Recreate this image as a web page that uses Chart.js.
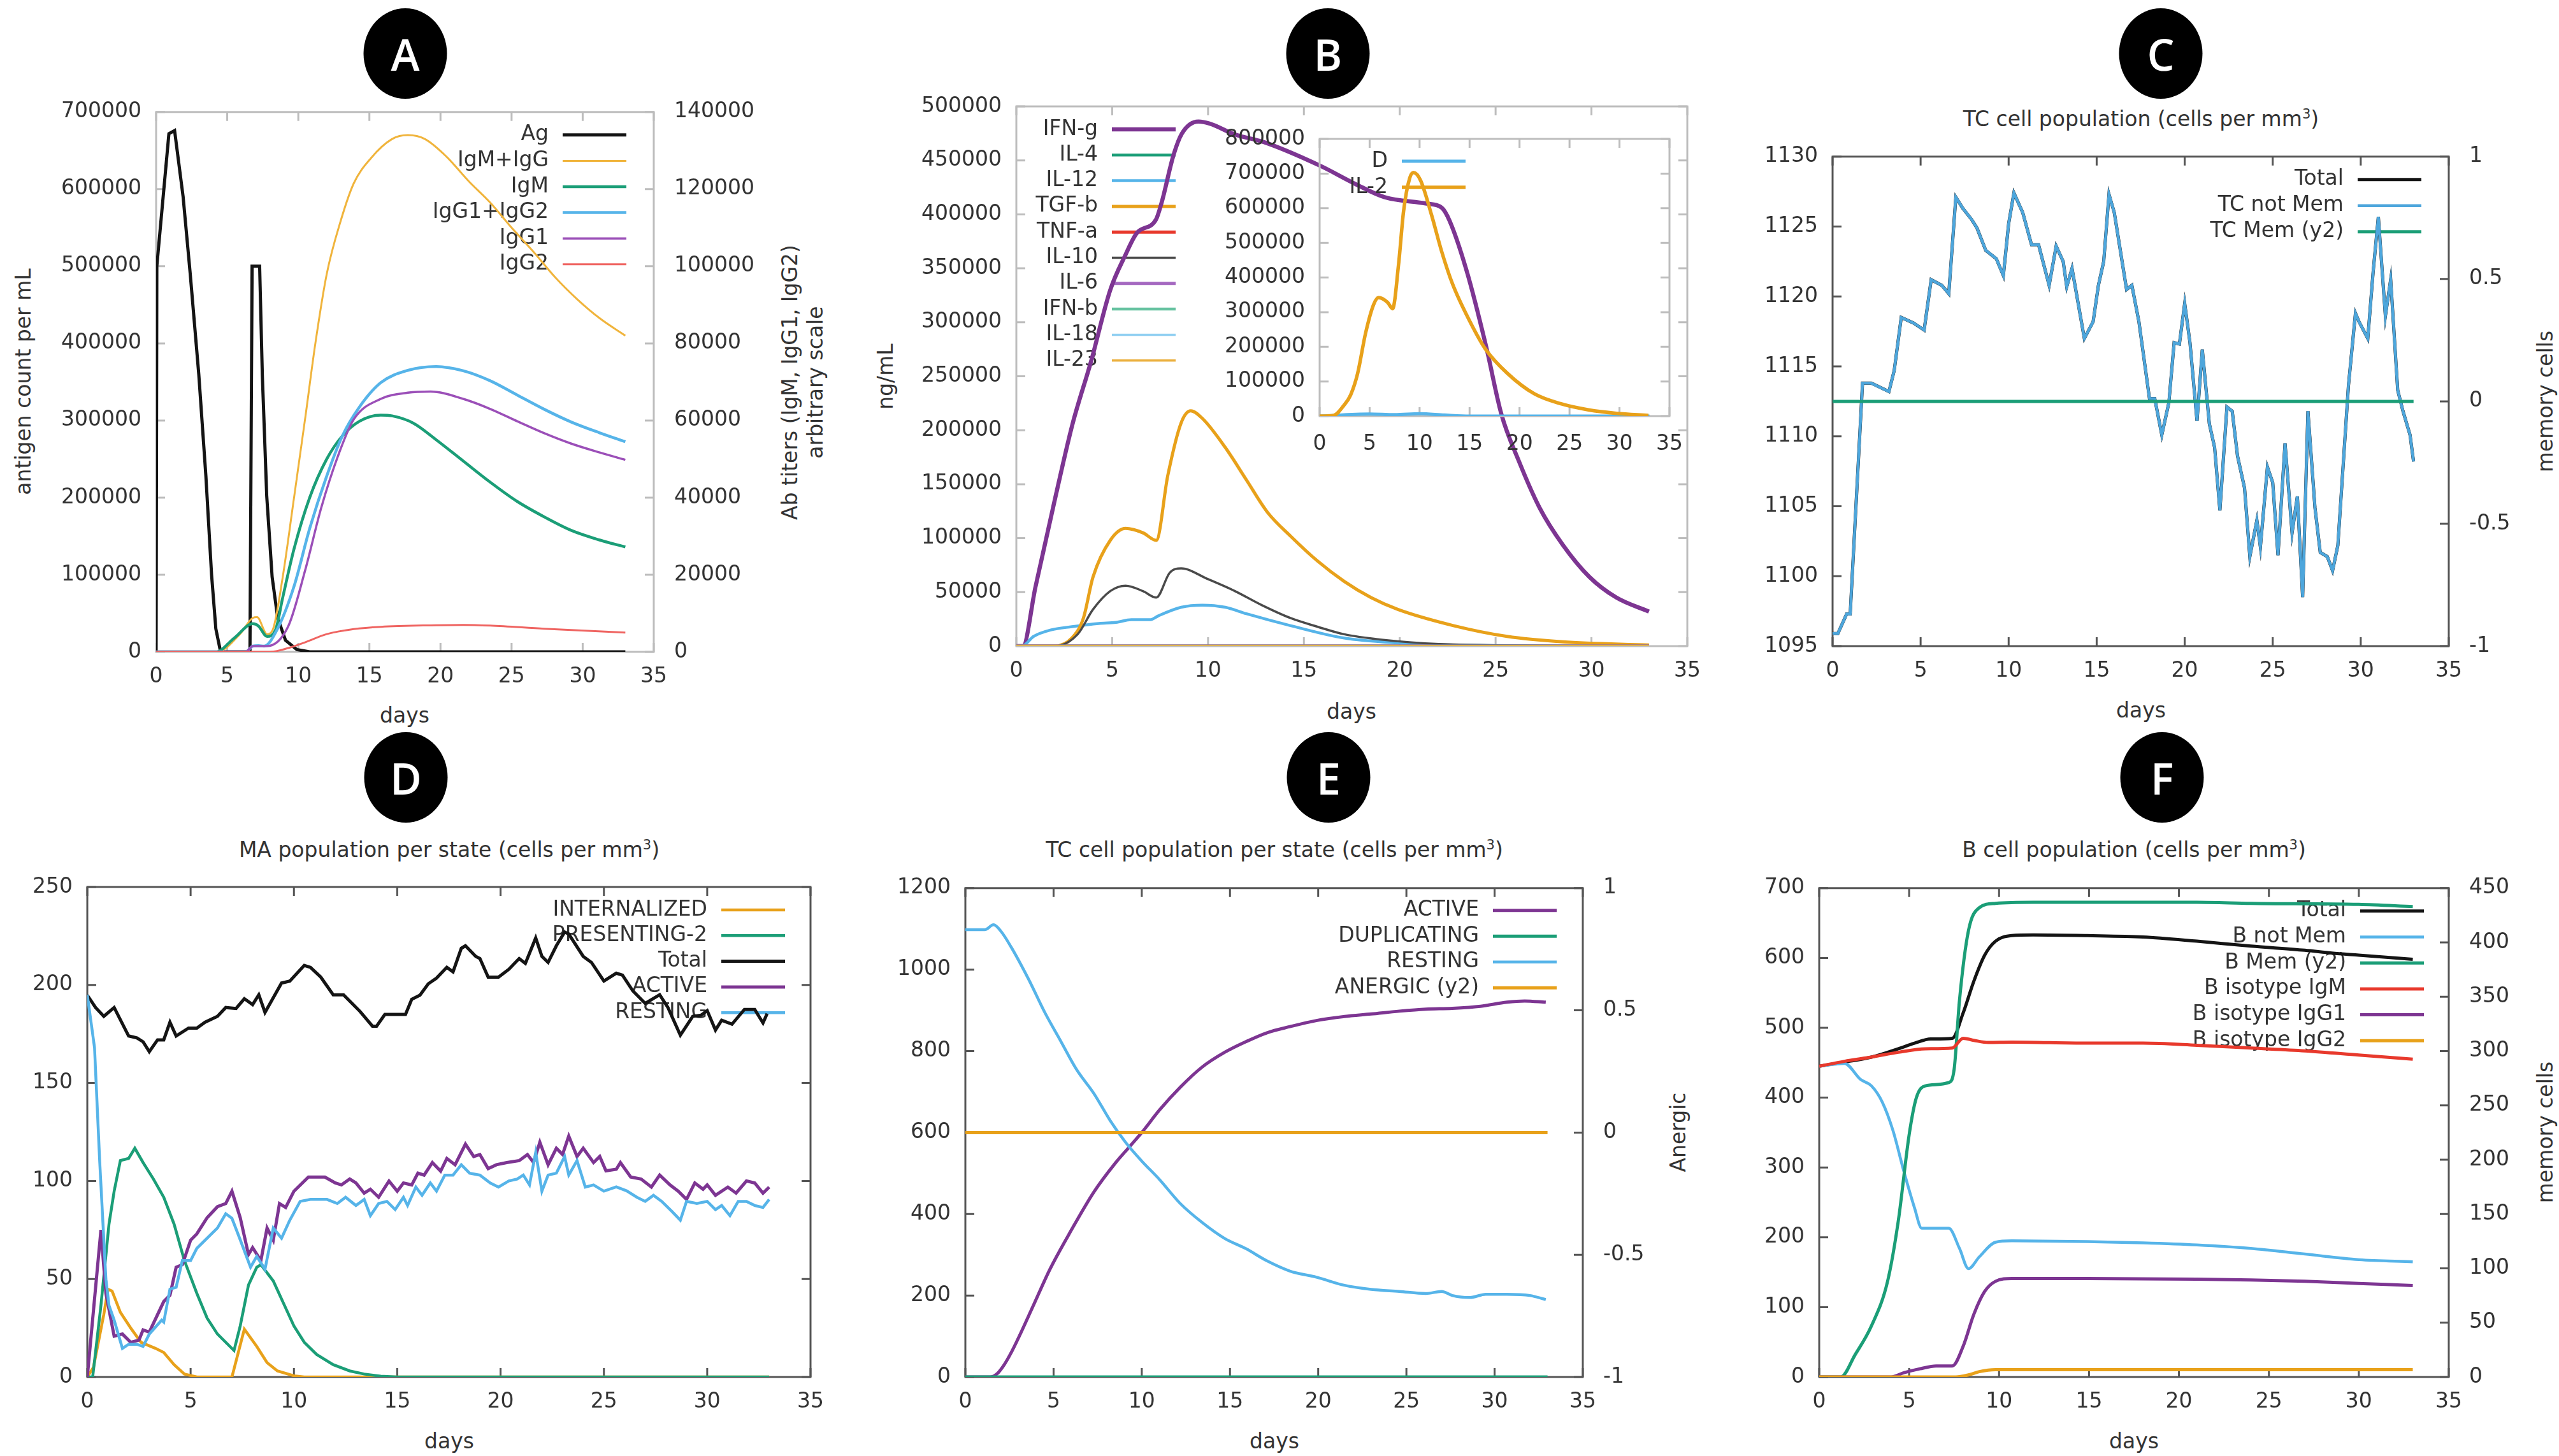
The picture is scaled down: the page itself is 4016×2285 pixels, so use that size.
<!DOCTYPE html>
<html>
<head>
<meta charset="utf-8">
<script src="https://cdn.jsdelivr.net/npm/chart.js@4.4.1/dist/chart.umd.min.js"></script>
<style>
  body { margin: 0; background: #fff; width: 4016px; height: 2285px; position: relative; overflow: hidden;
         font-family: "DejaVu Sans", sans-serif; color: #333; }
  canvas { position: absolute; }
  .t { position: absolute; font-size: 33px; white-space: nowrap; transform: translate(-50%, -50%); }
  .v { transform: translate(-50%, -50%) rotate(-90deg); }
  .t sup { font-size: 21px; line-height: 0; }
  .badge { position: absolute; width: 131px; height: 142px; border-radius: 50%; background: #000; color: #fff;
           font-family: "Open Sans", sans-serif; font-weight: 600; font-size: 68px; display: flex;
           align-items: center; justify-content: center; transform: translate(-50%, -50%); }
</style>
</head>
<body>

<div class="badge" style="left:636px;top:84px">A</div>
<div class="badge" style="left:2084px;top:84px">B</div>
<div class="badge" style="left:3391px;top:84px">C</div>
<div class="badge" style="left:637px;top:1220px">D</div>
<div class="badge" style="left:2085px;top:1220px">E</div>
<div class="badge" style="left:3393px;top:1220px">F</div>

<div class="t" style="left:3360px;top:186px">TC cell population (cells per mm<sup>3</sup>)</div>
<div class="t" style="left:705px;top:1333px">MA population per state (cells per mm<sup>3</sup>)</div>
<div class="t" style="left:2000px;top:1333px">TC cell population per state (cells per mm<sup>3</sup>)</div>
<div class="t" style="left:3349px;top:1333px">B cell population (cells per mm<sup>3</sup>)</div>

<div class="t" style="left:635px;top:1122px">days</div>
<div class="t" style="left:2121px;top:1116px">days</div>
<div class="t" style="left:3360px;top:1114px">days</div>
<div class="t" style="left:705px;top:2261px">days</div>
<div class="t" style="left:2000px;top:2261px">days</div>
<div class="t" style="left:3349px;top:2261px">days</div>

<div class="t v" style="left:36px;top:599px">antigen count per mL</div>
<div class="t v" style="left:1239px;top:600px">Ab titers (IgM, IgG1, IgG2)</div>
<div class="t v" style="left:1279px;top:600px">arbitrary scale</div>
<div class="t v" style="left:1389px;top:591px">ng/mL</div>
<div class="t v" style="left:3994px;top:630px">memory cells</div>
<div class="t v" style="left:2633px;top:1777px">Anergic</div>
<div class="t v" style="left:3994px;top:1777px">memory cells</div>

<script>
// ---------- A: antigen and antibodies ----------
const agDays = [0, 0.05, 0.9, 1.3, 1.9, 2.4, 3.0, 3.5, 3.9, 4.2, 4.5, 4.8, 6.6, 6.75, 7.28, 7.47, 7.78, 8.16, 8.55, 9.1, 9.9, 10.8, 33];
const agCount = [0, 500000, 672000, 676000, 590000, 490000, 360000, 228000, 100000, 30000, 3000, 0, 0, 500000, 500000, 359000, 202000, 97000, 44000, 15000, 3000, 0, 0];
const igSumDays = [0, 4.3, 5.9, 6.8, 7.1, 7.8, 8.2, 8.9, 9.7, 10.5, 11.2, 12, 13, 13.9, 15.1, 16.6, 17.7, 18.9, 20.4, 22, 23.5, 25, 26.6, 28.1, 29.6, 31.2, 33];
const igSum = [0, 0, 4600, 8800, 9000, 4600, 5700, 19300, 40000, 61000, 80000, 98000, 112000, 121500, 128000, 133000, 134000, 133000, 128500, 122000, 116500, 110000, 103500, 97000, 91500, 86500, 82000];
const igmDays = [0, 4.2, 5.5, 6.8, 7.2, 7.8, 8.4, 8.9, 9.7, 10.8, 12, 13.1, 14.3, 15.8, 16.6, 18.1, 19.7, 21.6, 23.5, 25.4, 27.3, 29.2, 31.2, 33];
const igm = [0, 0, 3600, 7300, 6700, 4000, 5700, 14000, 26700, 40000, 50000, 56000, 59800, 61400, 61200, 59300, 55000, 49500, 44000, 39000, 35000, 31500, 29000, 27200];
const iggDays = [0, 6.3, 6.8, 7.2, 7.6, 8.5, 9.7, 10.8, 12, 13.1, 14.3, 15.8, 17.7, 19.7, 21.6, 23.5, 25.4, 27.3, 29.2, 31.2, 33];
const igg = [0, 0, 1500, 1600, 1500, 5700, 17000, 32000, 45600, 56000, 63500, 69800, 73000, 74000, 72900, 70300, 66600, 62900, 59600, 56800, 54500];
const igg1Days = [0, 6.3, 6.8, 7.8, 9.3, 10.5, 11.6, 12.8, 13.9, 15.8, 17.7, 19.3, 21.6, 23.5, 25.4, 27.3, 29.2, 31.2, 33];
const igg1 = [0, 0, 1500, 1500, 6700, 21400, 37200, 50900, 60300, 65600, 67200, 67500, 65600, 63000, 59800, 56700, 54000, 51700, 49800];
const igg2Days = [0, 8, 9.3, 10.5, 12, 13.9, 15.8, 19.7, 21.6, 23.5, 27.3, 33];
const igg2 = [0, 0, 1000, 2500, 4600, 5900, 6500, 6900, 7000, 6800, 6000, 5000];

// ---------- B: cytokines ----------
const ifngDays = [0, 0.34, 1, 2, 2.92, 3.9, 4.9, 5.68, 6.3, 7.28, 7.58, 8.2, 8.64, 9.5, 10.1, 11.4, 12.9, 15.85, 17.7, 19.2, 21.4, 22.2, 22.6, 23.5, 24.5, 25.3, 26.2, 27.3, 28.5, 29.9, 31.3, 33];
const ifng = [0, 0, 55000, 135000, 205000, 264000, 330000, 362000, 383000, 395000, 411000, 455000, 475000, 486000, 484000, 474000, 467000, 445000, 428000, 416000, 410000, 406000, 394000, 347000, 278000, 215000, 172000, 128000, 94000, 64000, 45000, 32000];
const tgfbDays = [0, 2, 2.9, 3.5, 4, 4.9, 5.7, 6.6, 7.3, 7.9, 8.6, 9.1, 9.7, 10.9, 12, 13.1, 14.3, 15.7, 17.1, 18.5, 19.9, 22.8, 25.6, 28.5, 33];
const tgfb = [0, 0, 7500, 26000, 64000, 98000, 109000, 105000, 98000, 158000, 207000, 218000, 211000, 184000, 154000, 124000, 102000, 79000, 60000, 45000, 34000, 19000, 9000, 4000, 1000];
const il10Days = [0, 2, 3.2, 4, 4.9, 5.7, 6.6, 7.3, 8, 8.6, 10, 11.4, 12.8, 14.3, 15.7, 17.1, 19.9, 22.8, 33];
const il10 = [0, 0, 11000, 34000, 51000, 56000, 51000, 45000, 68000, 72000, 62000, 51000, 38000, 26000, 18000, 11000, 4500, 1500, 0];
const il12Days = [0, 0.3, 0.9, 1.8, 2.9, 4.3, 5.2, 6, 7, 7.4, 8.6, 9.7, 10.9, 12, 14.3, 17.1, 19.9, 22.8, 33];
const il12 = [0, 0, 9000, 15000, 18000, 21000, 22000, 24500, 24500, 28000, 36000, 38000, 36000, 30000, 19000, 7500, 3000, 1000, 0];
const flatDays = [0, 33];
const flatZero = [0, 0];
// inset
const il2Days = [0, 1.4, 2.4, 3.1, 3.8, 4.6, 5.4, 5.9, 6.8, 7.3, 7.9, 8.4, 9, 9.4, 10.1, 11.2, 12.2, 13.3, 15, 16.6, 18.8, 21.5, 24.2, 26.9, 29.7, 32.9];
const il2 = [0, 2000, 30000, 61000, 123000, 240000, 322000, 342000, 328000, 310000, 439000, 592000, 686000, 703000, 680000, 580000, 476000, 381000, 275000, 193000, 123000, 64000, 35000, 18000, 8000, 2000];
const dcDays = [0, 5, 7.5, 10, 12.5, 15, 33];
const dcCells = [0, 6000, 4000, 7000, 3000, 0, 0];

// ---------- C: TC population ----------
const tcDays = [0, 0.3, 0.8, 1.0, 1.7, 2.2, 3.2, 3.5, 3.9, 4.6, 5.2, 5.6, 6.2, 6.6, 7.0, 7.4, 7.9, 8.2, 8.7, 9.3, 9.7, 10.0, 10.3, 10.8, 11.3, 11.7, 12.3, 12.7, 13.1, 13.3, 13.6, 14.3, 14.8, 15.1, 15.4, 15.7, 16.0, 16.7, 17.0, 17.4, 18.0, 18.3, 18.7, 19.1, 19.4, 19.7, 20.0, 20.3, 20.7, 21.0, 21.4, 21.7, 22.0, 22.4, 22.7, 23.0, 23.4, 23.7, 24.1, 24.3, 24.7, 25.0, 25.3, 25.7, 26.1, 26.4, 26.7, 27.0, 27.4, 27.7, 28.1, 28.4, 28.7, 29.3, 29.7, 29.9, 30.4, 30.7, 31.0, 31.4, 31.7, 32.1, 32.4, 32.8, 33.0];
const tcNotMem = [1095.9, 1095.9, 1097.3, 1097.3, 1113.8, 1113.8, 1113.2, 1114.7, 1118.5, 1118.1, 1117.6, 1121.2, 1120.8, 1120.2, 1127.1, 1126.3, 1125.5, 1124.9, 1123.3, 1122.7, 1121.5, 1125.2, 1127.4, 1126.0, 1123.7, 1123.7, 1120.8, 1123.6, 1122.5, 1120.7, 1122.0, 1117.0, 1118.2, 1120.8, 1122.5, 1127.3, 1126.0, 1120.5, 1120.8, 1118.2, 1112.7, 1112.7, 1110.1, 1112.4, 1116.7, 1116.6, 1119.5, 1116.7, 1111.1, 1116.2, 1110.9, 1109.2, 1104.7, 1112.1, 1111.8, 1108.6, 1106.3, 1101.4, 1104.0, 1102.1, 1107.8, 1106.7, 1101.5, 1109.5, 1103.1, 1105.7, 1098.5, 1111.8, 1104.9, 1101.7, 1101.4, 1100.4, 1102.2, 1113.6, 1118.8, 1118.2, 1117.0, 1121.7, 1125.7, 1118.6, 1121.2, 1113.3, 1111.8, 1110.1, 1108.2];
const tcTotal = tcNotMem; // no memory cells, so the total sits under the not-mem line
const tcMemDays = [0, 33];
const tcMem = [0, 0];

// ---------- D: MA population per state ----------
const maTotalDays = [0, 0.4, 0.8, 1.3, 2.0, 2.4, 2.7, 3.0, 3.4, 3.7, 4.0, 4.3, 4.9, 5.3, 5.7, 6.3, 6.7, 7.2, 7.6, 8.0, 8.3, 8.6, 9.4, 9.8, 10.5, 10.8, 11.3, 11.9, 12.4, 13.2, 13.8, 14.0, 14.4, 15.4, 15.7, 16.1, 16.5, 16.9, 17.4, 17.7, 18.1, 18.3, 18.8, 19.0, 19.4, 19.9, 20.4, 20.9, 21.2, 21.7, 22.0, 22.3, 22.7, 23.1, 23.3, 24.0, 24.4, 25.0, 25.6, 25.9, 26.4, 27.0, 27.7, 28.1, 28.7, 29.3, 29.7, 30.0, 30.4, 30.7, 31.2, 31.8, 32.3, 32.7, 32.9];
const maTotal = [194.8, 188.5, 184, 188.5, 174, 173, 171, 166, 172, 172, 181, 174, 178, 178, 181, 184, 188.5, 188, 193, 190, 195, 186, 201, 202, 210, 209, 204, 195, 195, 186.5, 179, 179, 185, 185, 192.7, 194.8, 200.6, 203.5, 209, 206.7, 218.7, 220, 214.6, 213.5, 204, 204, 208, 213.5, 211, 224, 214.6, 211.5, 220, 227, 226, 214.6, 211.5, 202, 206, 205, 197, 190.6, 195, 188.5, 174.4, 184, 184.6, 186.9, 177, 182, 180, 187.5, 187.5, 180.6, 185.4];
const maRestDays = [0, 0.35, 0.6, 0.9, 1.05, 1.3, 1.7, 2.0, 2.4, 2.7, 3.0, 3.6, 3.7, 4.0, 4.3, 4.6, 5.0, 5.3, 5.8, 6.3, 6.7, 7.0, 7.4, 7.9, 8.2, 8.6, 9.0, 9.4, 9.8, 10.3, 10.8, 11.6, 12.1, 12.5, 13.0, 13.4, 13.7, 14.1, 14.5, 14.9, 15.3, 15.5, 15.9, 16.2, 16.6, 16.9, 17.3, 17.7, 18.1, 18.5, 19.0, 19.5, 19.9, 20.4, 20.8, 21.1, 21.4, 21.7, 22.0, 22.3, 22.7, 23.1, 23.3, 23.7, 24.1, 24.5, 25.0, 25.6, 26.1, 26.6, 27.0, 27.4, 27.8, 28.3, 28.7, 29.0, 29.5, 30.0, 30.4, 30.7, 31.1, 31.5, 31.9, 32.3, 32.7, 33.0];
const maResting = [195, 168, 110, 50, 36.5, 29, 14.6, 16.7, 16.7, 15.6, 21.9, 29, 28, 44.8, 45.8, 59.4, 59.4, 65.6, 70.8, 76, 83.3, 81, 70, 56, 61.5, 55, 76, 70.8, 80, 89.6, 90.6, 90.6, 88.5, 91.7, 87.5, 90.6, 82.3, 88.5, 89.6, 85.4, 91.7, 87.5, 96.9, 92.7, 99, 94.8, 103, 103, 108.3, 104, 103, 99, 96.9, 100, 101, 103, 98, 114.6, 94.8, 103, 104, 112.5, 103, 110.4, 96.9, 98, 94.8, 97, 95, 91.7, 89.6, 92.7, 89.6, 84.4, 80, 89.6, 88.5, 89.6, 85.4, 87.5, 82.3, 89.6, 89.6, 87.5, 86.5, 90.6];
const maActDays = [0, 0.66, 0.9, 1.3, 1.7, 2.1, 2.5, 2.7, 3.0, 3.7, 4.0, 4.3, 4.6, 5.0, 5.3, 5.8, 6.3, 6.7, 7.0, 7.4, 7.8, 8.0, 8.4, 8.7, 9.0, 9.3, 9.6, 10.0, 10.7, 11.5, 12.0, 12.3, 12.7, 13.0, 13.4, 13.7, 14.1, 14.6, 15.0, 15.3, 15.7, 16.0, 16.3, 16.7, 17.1, 17.4, 17.8, 18.3, 18.7, 19.0, 19.4, 19.8, 20.3, 20.9, 21.3, 21.6, 21.9, 22.3, 22.7, 23.0, 23.3, 23.7, 24.0, 24.5, 24.8, 25.1, 25.6, 25.8, 26.3, 26.8, 27.3, 27.7, 28.2, 28.6, 29.0, 29.4, 29.8, 30.0, 30.4, 31.0, 31.4, 31.9, 32.3, 32.7, 33.0];
const maActive = [0, 75, 42.7, 20.8, 21.9, 17.7, 18.8, 24, 22.9, 38.5, 41.7, 56, 57.3, 69.8, 73, 81.3, 86.9, 88.5, 94.8, 81.3, 62.5, 66, 59.4, 76, 69.8, 88.5, 86.5, 94.8, 102, 102, 99, 98, 101, 99, 93.8, 95.8, 91.7, 100, 94.8, 99, 98, 104, 103, 109.4, 105, 111.5, 108.3, 118.8, 112.5, 113.5, 106.3, 108.3, 109.4, 110.4, 113.5, 109.4, 119.8, 108.3, 116.7, 113.5, 122.9, 112.5, 116.7, 109.4, 112.5, 105.2, 106, 109.4, 102, 101, 96.9, 103, 98, 94.8, 90.6, 99, 95.8, 98, 92.7, 96.9, 93.8, 100, 99, 93.8, 96.9];
const maPresDays = [0, 0.26, 0.66, 1.05, 1.3, 1.6, 2.0, 2.3, 2.7, 3.2, 3.7, 4.2, 4.7, 5.3, 5.8, 6.3, 7.1, 7.4, 7.8, 8.2, 8.4, 9.0, 9.5, 10.0, 10.5, 11.1, 11.9, 12.7, 13.4, 14.2, 15, 33];
const maPresenting = [0, 0, 36.5, 78, 94.8, 110.4, 111.5, 116.7, 109.4, 101, 91.7, 78, 59.4, 42.7, 30, 21.9, 13.5, 26, 46.9, 56, 57.3, 49, 37.5, 26, 17.7, 11.5, 6.3, 3.1, 1.5, 0.4, 0, 0];
const maIntDays = [0, 0.3, 0.8, 1.0, 1.2, 1.6, 2.1, 2.6, 3.3, 3.7, 4.2, 4.7, 5.3, 7.0, 7.6, 8.2, 8.7, 9.2, 10, 10.5, 33];
const maInternalized = [0, 5, 32, 44.8, 43.8, 33, 25, 17.7, 14.6, 12.5, 6.3, 1.5, 0, 0, 24.4, 15.6, 7.3, 3.1, 0.6, 0, 0];

// ---------- E: TC population per state ----------
const tcRestDays = [0, 1.1, 1.6, 2.0, 2.6, 3.6, 4.5, 5.4, 6.3, 7.3, 8.2, 9.1, 10, 11, 12.2, 13.4, 14.7, 15.9, 17.1, 18.4, 19.9, 21.5, 23, 24.6, 26.1, 27, 27.6, 28.6, 29.5, 30.7, 32, 32.9];
const tcResting = [1098, 1098, 1110, 1095, 1055, 975, 895, 825, 755, 695, 630, 575, 530, 485, 425, 380, 340, 315, 285, 260, 245, 225, 215, 210, 205, 210, 200, 195, 203, 203, 200, 190];
const tcActDays = [0, 1.4, 1.8, 2.2, 2.6, 3.0, 3.9, 4.8, 6.0, 7.3, 8.5, 9.3, 10, 11, 12.2, 13.4, 14.7, 15.9, 17.1, 18.4, 19.9, 21.5, 23, 24.6, 26.1, 27.6, 29.2, 30.7, 31.7, 32.9];
const tcActive = [0, 0, 8, 30, 60, 95, 180, 265, 360, 455, 525, 565, 600, 655, 712, 760, 797, 823, 845, 860, 875, 885, 891, 898, 903, 905, 910, 920, 923, 920];

// ---------- F: B cell population ----------
const bTotalDays = [0, 1.4, 2.9, 4.4, 5.3, 6.2, 7.4, 8.0, 8.6, 9.2, 9.8, 10.7, 11.9, 14.9, 18, 21, 24, 27, 28.5, 30, 33];
const bTotal = [445, 451, 458, 470, 478, 484, 485, 521, 567, 604, 624, 632, 633, 632, 630, 624, 617, 611, 607, 604, 598];
const bNotMemDays = [0, 1.4, 2.3, 2.9, 3.5, 4.1, 4.7, 5.3, 5.7, 7.2, 7.8, 8.3, 8.9, 9.8, 10.7, 14.9, 18, 21, 24, 27, 30, 33];
const bNotMem = [445, 449, 426, 417, 394, 353, 295, 242, 213, 213, 184, 155, 172, 193, 195, 194, 192, 189, 184, 176, 168, 165];
const bMemDays = [0, 1.2, 2.0, 2.9, 3.8, 4.4, 5.0, 5.4, 5.9, 7.2, 7.5, 7.8, 8.3, 8.9, 9.8, 11.9, 21, 24, 30, 33];
const bMem = [0, 0, 20.6, 46.9, 88, 144, 223, 257, 268, 271, 283, 347, 411, 432, 436, 437, 437, 436, 435, 433];
const bIgmDays = [0, 1.4, 2.9, 4.4, 5.9, 7.4, 8.0, 8.6, 9.4, 10.7, 14.9, 18, 21, 24, 27, 30, 33];
const bIgm = [445, 452, 458, 465, 470, 471, 485, 482, 479, 479.5, 478, 478, 475, 471, 467, 461, 455];
const bIgg1Days = [0, 4, 4.7, 5.6, 6.5, 7.4, 8, 8.6, 9.2, 9.8, 10.7, 14.9, 21, 24, 27, 30, 33];
const bIgg1 = [0, 0, 6, 11.7, 15.8, 15.8, 43.8, 90, 122.5, 137, 141, 141, 140, 139, 137, 134, 131];
const bIgg2Days = [0, 7.6, 8.3, 8.9, 9.8, 33];
const bIgg2 = [0, 0, 3, 7.6, 10.5, 10.5];

// ---------- drawing ----------
const FONT = { family: 'DejaVu Sans', size: 33 };
const INK = '#333';
const PURPLE = '#7d3592', GREEN = '#1b9e77', BLUE = '#56b4e9', ORANGE = '#e8a11a', RED = '#e8392c', BLACK = '#141414';

function pts(xs, ys) {
  const n = Math.min(xs.length, ys.length);
  const out = [];
  for (let i = 0; i < n; i++) out.push({ x: xs[i], y: ys[i] });
  return out;
}

function series(label, xs, ys, color, width, extra) {
  return Object.assign({
    label: label, data: pts(xs, ys), borderColor: color, borderWidth: width,
    pointRadius: 0, fill: false, tension: 0
  }, extra || {});
}
const SMOOTH = { cubicInterpolationMode: 'monotone' };

// gnuplot style border with inward ticks
const gnuFrame = {
  id: 'gnuFrame',
  beforeDatasetsDraw(chart, args, o) {
    const { ctx, chartArea: a, scales } = chart;
    const L = 14;
    ctx.save();
    ctx.strokeStyle = o.color;
    ctx.lineWidth = 3;
    ctx.strokeRect(a.left, a.top, a.right - a.left, a.bottom - a.top);
    ctx.beginPath();
    scales.x.ticks.forEach(t => {
      const px = scales.x.getPixelForValue(t.value);
      ctx.moveTo(px, a.bottom); ctx.lineTo(px, a.bottom - L);
      ctx.moveTo(px, a.top); ctx.lineTo(px, a.top + L);
    });
    scales.y.ticks.forEach(t => {
      const py = scales.y.getPixelForValue(t.value);
      ctx.moveTo(a.left, py); ctx.lineTo(a.left + L, py);
      if (!scales.y2) { ctx.moveTo(a.right, py); ctx.lineTo(a.right - L, py); }
    });
    if (scales.y2) scales.y2.ticks.forEach(t => {
      const py = scales.y2.getPixelForValue(t.value);
      ctx.moveTo(a.right, py); ctx.lineTo(a.right - L, py);
    });
    ctx.stroke();
    ctx.restore();
  }
};

// key inside the plot: text right-aligned, then a line sample
const gnuKey = {
  id: 'gnuKey',
  beforeDatasetsDraw(chart, args, o) {
    const { ctx, chartArea: a } = chart;
    const x1 = o.left != null ? a.left + o.left : a.right - o.right - 100;
    const x2 = x1 + 100;
    ctx.save();
    ctx.font = '33px "DejaVu Sans"';
    ctx.textAlign = 'right';
    ctx.textBaseline = 'middle';
    chart.data.datasets.forEach((ds, i) => {
      const y = a.top + o.top + i * o.step;
      ctx.fillStyle = INK;
      ctx.fillText(ds.label, x1 - 22, y);
      ctx.strokeStyle = ds.borderColor;
      ctx.lineWidth = ds.borderWidth;
      ctx.beginPath(); ctx.moveTo(x1, y); ctx.lineTo(x2, y); ctx.stroke();
    });
    ctx.restore();
  }
};

function tickOpts(step, pad) {
  return { stepSize: step, padding: pad, autoSkip: false, maxRotation: 0, font: FONT, color: INK, callback: v => String(v) };
}

function panel(rect, o) {
  const LW = 260, RW = 250, TP = 50, BH = 90;
  const w = rect[2] - rect[0] + LW + RW, h = rect[3] - rect[1] + TP + BH;
  const cv = document.createElement('canvas');
  cv.width = w; cv.height = h;
  cv.style.left = (rect[0] - LW) + 'px';
  cv.style.top = (rect[1] - TP) + 'px';
  cv.style.width = w + 'px'; cv.style.height = h + 'px';
  document.body.appendChild(cv);

  // later datasets drawn on top, like gnuplot
  o.datasets.forEach((d, i) => { d.order = -i; });

  const scales = {
    x: { type: 'linear', min: 0, max: 35, ticks: tickOpts(5, o.xPad || 20),
         grid: { display: false, drawTicks: false }, border: { display: false },
         afterFit: s => { s.height = BH; } },
    y: { type: 'linear', position: 'left', min: o.y[0], max: o.y[1], ticks: tickOpts(o.y[2], 23),
         grid: { display: false, drawTicks: false }, border: { display: false },
         afterFit: s => { s.width = LW; } }
  };
  if (o.y2) {
    scales.y2 = { type: 'linear', position: 'right', min: o.y2[0], max: o.y2[1], ticks: tickOpts(o.y2[2], 32),
                  grid: { display: false, drawTicks: false }, border: { display: false },
                  afterFit: s => { s.width = RW; } };
  }
  return new Chart(cv, {
    type: 'line',
    data: { datasets: o.datasets },
    options: {
      responsive: false, animation: false, events: [],
      layout: { padding: { top: TP, left: 0, bottom: 0, right: o.y2 ? 0 : RW } },
      scales: scales,
      plugins: { legend: { display: false }, tooltip: { enabled: false },
                 gnuFrame: { color: o.frame }, gnuKey: o.key }
    },
    plugins: [gnuFrame, gnuKey]
  });
}

// A
panel([245, 174, 1026, 1023], {
  y: [0, 700000, 100000], y2: [0, 140000, 20000], frame: '#bdbdbd',
  key: { right: 43, top: 36, step: 40.6 },
  datasets: [
    series('Ag', agDays, agCount, BLACK, 5),
    series('IgM+IgG', igSumDays, igSum, '#f0b43c', 3, Object.assign({ yAxisID: 'y2' }, SMOOTH)),
    series('IgM', igmDays, igm, GREEN, 4.5, Object.assign({ yAxisID: 'y2' }, SMOOTH)),
    series('IgG1+IgG2', iggDays, igg, BLUE, 4.5, Object.assign({ yAxisID: 'y2' }, SMOOTH)),
    series('IgG1', igg1Days, igg1, '#9b4fb8', 3.5, Object.assign({ yAxisID: 'y2' }, SMOOTH)),
    series('IgG2', igg2Days, igg2, '#ef6461', 3, Object.assign({ yAxisID: 'y2' }, SMOOTH))
  ]
});

// B main
panel([1595, 167, 2648, 1014], {
  y: [0, 500000, 50000], frame: '#bdbdbd',
  key: { left: 150, top: 36, step: 40.3 },
  datasets: [
    series('IFN-g', ifngDays, ifng, PURPLE, 6.5, SMOOTH),
    series('IL-4', flatDays, flatZero, GREEN, 4.5),
    series('IL-12', il12Days, il12, BLUE, 4.5, SMOOTH),
    series('TGF-b', tgfbDays, tgfb, ORANGE, 5, SMOOTH),
    series('TNF-a', flatDays, flatZero, RED, 5),
    series('IL-10', il10Days, il10, '#4a4a4a', 3.5, SMOOTH),
    series('IL-6', flatDays, flatZero, '#a468c0', 5),
    series('IFN-b', flatDays, flatZero, '#66c2a0', 4.5),
    series('IL-18', flatDays, flatZero, '#92d0f2', 3.5),
    series('IL-23', flatDays, flatZero, '#ebb03e', 3.5)
  ]
});

// B inset
panel([2071, 218, 2620, 653], {
  y: [0, 800000, 100000], frame: '#bdbdbd', xPad: 25,
  key: { left: 129, top: 35, step: 41 },
  datasets: [
    series('D', dcDays, dcCells, BLUE, 5, SMOOTH),
    series('IL-2', il2Days, il2, ORANGE, 5.5, SMOOTH)
  ]
});

// C
panel([2876, 244, 3843, 1014], {
  y: [1095, 1130, 5], y2: [-1, 1, 0.5], frame: '#555',
  key: { right: 43, top: 36, step: 41 },
  datasets: [
    series('Total', tcDays, tcTotal, BLACK, 5),
    series('TC not Mem', tcDays, tcNotMem, '#4da6dc', 4.5),
    series('TC Mem (y2)', tcMemDays, tcMem, GREEN, 5, { yAxisID: 'y2' })
  ]
});

// D
panel([137, 1392, 1272, 2161], {
  y: [0, 250, 50], frame: '#555',
  key: { right: 40, top: 36, step: 40.3 },
  datasets: [
    series('INTERNALIZED', maIntDays, maInternalized, ORANGE, 4.5),
    series('PRESENTING-2', maPresDays, maPresenting, GREEN, 4.5),
    series('Total', maTotalDays, maTotal, BLACK, 5),
    series('ACTIVE', maActDays, maActive, PURPLE, 5),
    series('RESTING', maRestDays, maResting, BLUE, 4.5)
  ]
});

// E
panel([1515, 1392, 2484, 2161], {
  y: [0, 1200, 200], y2: [-1, 1, 0.5], frame: '#555',
  key: { right: 41, top: 35, step: 40.5 },
  datasets: [
    series('ACTIVE', tcActDays, tcActive, PURPLE, 5, SMOOTH),
    series('DUPLICATING', flatDays, flatZero, GREEN, 5),
    series('RESTING', tcRestDays, tcResting, BLUE, 4.5, SMOOTH),
    series('ANERGIC (y2)', flatDays, flatZero, ORANGE, 5, { yAxisID: 'y2' })
  ]
});

// F
panel([2855, 1392, 3843, 2161], {
  y: [0, 700, 100], y2: [0, 450, 50], frame: '#555',
  key: { right: 39, top: 36, step: 40.7 },
  datasets: [
    series('Total', bTotalDays, bTotal, BLACK, 5, SMOOTH),
    series('B not Mem', bNotMemDays, bNotMem, BLUE, 4.5, SMOOTH),
    series('B Mem (y2)', bMemDays, bMem, GREEN, 5, Object.assign({ yAxisID: 'y2' }, SMOOTH)),
    series('B isotype IgM', bIgmDays, bIgm, RED, 5, SMOOTH),
    series('B isotype IgG1', bIgg1Days, bIgg1, PURPLE, 5, SMOOTH),
    series('B isotype IgG2', bIgg2Days, bIgg2, ORANGE, 5, SMOOTH)
  ]
});
</script>
</body>
</html>
